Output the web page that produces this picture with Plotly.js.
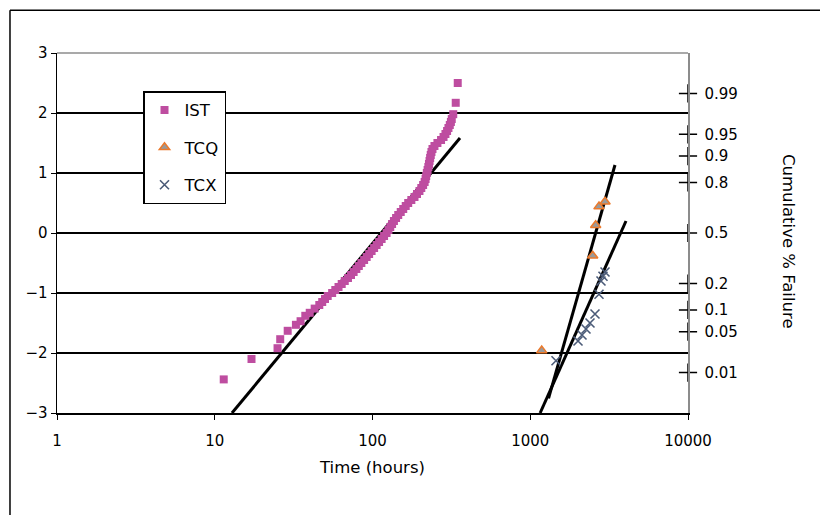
<!DOCTYPE html>
<html>
<head>
<meta charset="utf-8">
<script src="https://cdn.plot.ly/plotly-3.0.1.min.js"></script>
<style>
html,body{margin:0;padding:0;background:#fff;}
#chart{width:820px;height:515px;}
</style>
</head>
<body>
<div id="chart"></div>
<script>
// ---- data ----
const istTime = [11.4, 17.1, 25.0, 26.0, 29.0, 32.7, 35.0, 37.5, 40.0, 43.0, 46.0, 48.0, 50.0, 52.0,
  55.5, 58.1, 60.9, 63.8, 66.7, 69.9, 73.1, 75.9, 79.0, 81.9,
  85.0, 88.5, 91.8, 95.2, 98.7, 102.4, 106.2, 110.1, 114.2, 118.4,
  122.8, 126.2, 129.6, 133.1, 136.7, 141.1, 145.6, 151.0, 156.6, 162.4,
  168.4, 176.3, 184.6, 191.4, 198.5, 203.9, 209.4, 214.0, 217.0, 219.0,
  221.0, 223.5, 226.0, 228.0, 230.0, 232.0, 234.0, 236.5, 240.0, 247.0,
  258.0, 272.0, 282.0, 290.0, 297.0, 303.0, 309.0, 314.0, 318.0,
  325, 337, 347];
const istScore = [-2.44, -2.10, -1.92, -1.77, -1.63, -1.53, -1.47, -1.38, -1.33, -1.26, -1.20, -1.15, -1.10, -1.05,
  -1.00, -0.95, -0.90, -0.85, -0.80, -0.75, -0.70, -0.65, -0.60, -0.55,
  -0.50, -0.45, -0.40, -0.35, -0.30, -0.25, -0.20, -0.15, -0.10, -0.05,
  0.00, 0.05, 0.10, 0.15, 0.20, 0.25, 0.30, 0.35, 0.40, 0.45,
  0.50, 0.55, 0.60, 0.65, 0.70, 0.75, 0.80, 0.85, 0.90, 0.95,
  1.00, 1.05, 1.10, 1.15, 1.20, 1.25, 1.30, 1.35, 1.40, 1.45,
  1.50, 1.55, 1.60, 1.65, 1.70, 1.75, 1.80, 1.85, 1.90,
  1.98, 2.17, 2.50];

const tcqTime  = [1182, 2488, 2598, 2728, 2977];
const tcqScore = [-1.96, -0.38, 0.13, 0.44, 0.52];

const tcxTime  = [1456, 2008, 2129, 2256, 2392, 2573, 2728, 2808, 2892, 2978];
const tcxScore = [-2.13, -1.80, -1.70, -1.60, -1.50, -1.35, -1.02, -0.80, -0.72, -0.65];

const istFitTime = [12.86, 358.6];
const istFitScore = [-3.0, 1.583];
const tcqFitTime = [1306, 3445];
const tcqFitScore = [-2.755, 1.133];
const tcxFitTime = [1155, 4046];
const tcxFitScore = [-3.0, 0.2];

const xTickVals = [1, 10, 100, 1000, 10000];
const xTickText = ['1', '10', '100', '1000', '10000'];
const yTickVals = [-3, -2, -1, 0, 1, 2, 3];

const probLabels = ['0.99', '0.95', '0.9', '0.8', '0.5', '0.2', '0.1', '0.05', '0.01'];
const probScores = [2.326, 1.645, 1.282, 0.842, 0, -0.842, -1.282, -1.645, -2.326];
const probAxisTime = probScores.map(() => 10000);

// ---- styling ----
const FONT = '"DejaVu Sans", "Liberation Sans", sans-serif';
const FS = 15;     // tick labels
const FT = 16.5;   // titles and legend

const traces = [
  {x: istFitTime, y: istFitScore, mode: 'lines', line: {color: '#000', width: 3}, showlegend: false, hoverinfo: 'skip'},
  {x: tcqFitTime, y: tcqFitScore, mode: 'lines', line: {color: '#000', width: 3}, showlegend: false, hoverinfo: 'skip'},
  {x: tcxFitTime, y: tcxFitScore, mode: 'lines', line: {color: '#000', width: 3}, showlegend: false, hoverinfo: 'skip'},
  {x: istTime, y: istScore, mode: 'markers', name: 'IST', legendgroup: 'a',
   marker: {symbol: 'square', size: 8, color: '#BE4DA0'}},
  {x: tcqTime, y: tcqScore, mode: 'markers', name: 'TCQ', legendgroup: 'b',
   marker: {symbol: 'triangle-up', size: 9, color: '#9A9A9A', line: {color: '#EC7A2C', width: 1.5}}},
  {x: tcxTime, y: tcxScore, mode: 'markers', name: 'TCX', legendgroup: 'c',
   marker: {symbol: 'x-thin', size: 9, color: '#4B5B78', line: {color: '#4B5B78', width: 1.6}}},
  {x: probAxisTime, y: probScores, mode: 'markers', showlegend: false, hoverinfo: 'skip', cliponaxis: false,
   marker: {symbol: 'cross-thin', size: 13, color: '#000', line: {color: '#000', width: 1.5}}},
  {x: [10000], y: [0], yaxis: 'y2', mode: 'markers', showlegend: false, hoverinfo: 'skip',
   marker: {opacity: 0, size: 1}}
];

const layout = {
  width: 820, height: 515,
  margin: {l: 57, r: 132, t: 53, b: 102, pad: 0},
  paper_bgcolor: '#fff', plot_bgcolor: '#fff',
  font: {family: FONT, size: FS, color: '#000'},
  showlegend: true,
  xaxis: {
    type: 'log', range: [0, 4], tickvals: xTickVals, ticktext: xTickText,
    ticks: 'outside', ticklen: 5, tickcolor: '#000', tickwidth: 1,
    showline: true, linecolor: '#000', linewidth: 1.5,
    showgrid: false, zeroline: false, ticklabelstandoff: 8,
    title: {text: 'Time (hours)', font: {family: FONT, size: FT}, standoff: 13}
  },
  yaxis: {
    range: [-3, 3], tickvals: yTickVals,
    ticks: 'outside', ticklen: 5, tickcolor: '#000', tickwidth: 1,
    showline: true, linecolor: '#000', linewidth: 1.5,
    showgrid: true, gridcolor: '#000', gridwidth: 1.3, zeroline: false
  },
  yaxis2: {
    overlaying: 'y', side: 'right', range: [-3, 3],
    tickvals: probScores, ticktext: probLabels,
    ticks: 'outside', ticklen: 8, tickcolor: 'rgba(0,0,0,0)',
    ticklabelstandoff: 4,
    showline: true, linecolor: '#8C8C8C', linewidth: 1.5,
    showgrid: false, zeroline: false
  },
  legend: {
    x: 0.1363, y: 0.894, xanchor: 'left', yanchor: 'top',
    bgcolor: '#fff', bordercolor: '#000', borderwidth: 1.5,
    traceorder: 'grouped', tracegroupgap: 13,
    font: {family: FONT, size: FT}, itemwidth: 30
  },
  shapes: [
    {type: 'line', xref: 'paper', yref: 'paper', x0: 0, x1: 1, y0: 1, y1: 1,
     line: {color: '#8C8C8C', width: 1.5}},
    {type: 'line', xref: 'paper', yref: 'paper', x0: -0.0745, x1: 1.3, y0: 1.119, y1: 1.119,
     line: {color: '#000', width: 1.5}},
    {type: 'line', xref: 'paper', yref: 'paper', x0: -0.0745, x1: -0.0745, y0: -0.4, y1: 1.119,
     line: {color: '#000', width: 1.5}}
  ],
  annotations: [
    {text: 'Cumulative % Failure', textangle: 90, xref: 'paper', yref: 'paper',
     x: 1.1585, y: 0.478, xanchor: 'center', yanchor: 'middle', showarrow: false,
     font: {family: FONT, size: FT}}
  ]
};

Plotly.newPlot('chart', traces, layout, {displayModeBar: false, staticPlot: true});
</script>
</body>
</html>
